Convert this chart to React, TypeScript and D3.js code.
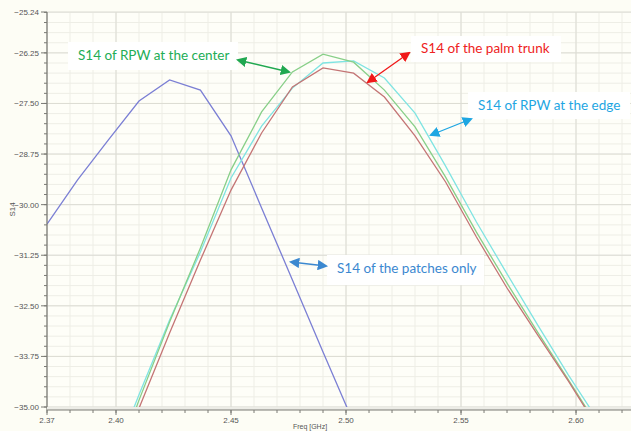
import React from "react";
import * as d3 from "d3";

// frequency sweep (GHz), one point every 0.01333 GHz
const freqs = [2.3833, 2.3967, 2.41, 2.4233, 2.4367, 2.45, 2.4633, 2.4767, 2.49, 2.5033,
  2.5167, 2.53, 2.5433, 2.5567, 2.57, 2.5833, 2.5967, 2.61, 2.6233];

const patchFreqs = [2.37, 2.3833, 2.3967, 2.41, 2.4233, 2.4367, 2.45, 2.4633, 2.4767, 2.49, 2.5033];
const patchesOnly = [-30.48, -29.39, -28.40, -27.44, -26.92, -27.17, -28.30, -30.08, -31.86, -33.64, -35.39];

const rpwCenter = [-38.8, -36.9, -34.83, -32.90, -31.07, -29.14, -27.71, -26.72, -26.28, -26.48,
  -27.17, -28.08, -29.32, -30.68, -31.94, -33.15, -34.33, -35.52, -36.7];
const rpwEdge = [-38.5, -36.6, -34.70, -32.85, -31.17, -29.34, -28.06, -27.12, -26.50, -26.45,
  -26.87, -27.74, -29.05, -30.43, -31.71, -32.97, -34.21, -35.37, -36.5];
const palmTrunk = [-39.0, -37.0, -35.03, -33.17, -31.37, -29.64, -28.23, -27.09, -26.62, -26.75,
  -27.34, -28.30, -29.44, -30.80, -32.06, -33.22, -34.36, -35.57, -36.8];

const yMajor = [-25.24, -26.25, -27.5, -28.75, -30, -31.25, -32.5, -33.75, -35];
const xMajor = [2.37, 2.4, 2.45, 2.5, 2.55, 2.6];

const W = 631, H = 431;
const left = 47, right = 631, top = 12, bottom = 407;

const x = d3.scaleLinear().domain([2.37, 2.6239]).range([left, right]);
const y = d3.scaleLinear().domain([-35, -25.24]).range([bottom, top]);

const yMinor = d3.range(-35, -25.2, 0.25);
const xMinor = d3.range(2.37, 2.625, 0.01);

const line = d3.line<[number, number]>().x(d => x(d[0])).y(d => y(d[1]));

const Arrow = ({ x1, y1, x2, y2, color, id }: any) => (
  <line x1={x1} y1={y1} x2={x2} y2={y2} stroke={color} strokeWidth={1.3}
    markerStart={`url(#${id})`} markerEnd={`url(#${id})`} />
);

const Label = ({ bx, by, bw, bh, tx, ty, text, color }: any) => (
  <g>
    <rect x={bx} y={by} width={bw} height={bh} fill="#ffffff" />
    <text x={tx} y={ty} fill={color} fontSize={13.5} fontFamily="Lato, 'Open Sans', sans-serif">{text}</text>
  </g>
);

export default function App() {
  const series = [
    { name: "patches", xs: patchFreqs, ys: patchesOnly, color: "#7b7fd4" },
    { name: "edge", xs: freqs, ys: rpwEdge, color: "#7fe4e2" },
    { name: "center", xs: freqs, ys: rpwCenter, color: "#88cf88" },
    { name: "trunk", xs: freqs, ys: palmTrunk, color: "#c47575" },
  ];
  const markers = [
    { id: "ag", color: "#20a850" },
    { id: "ar", color: "#f01818" },
    { id: "ab", color: "#1ea6e2" },
    { id: "ap", color: "#3b88d0" },
  ];
  return (
    <div style={{ position: "absolute", left: 0, top: 0 }}>
      <svg width={W} height={H} style={{ display: "block", background: "#fdfdf5" }}>
        <defs>
          <clipPath id="plot">
            <rect x={left} y={top} width={right - left} height={bottom - top} />
          </clipPath>
          {markers.map(m => (
            <marker key={m.id} id={m.id} viewBox="0 0 10 10" refX={8} refY={5}
              markerWidth={8} markerHeight={8} orient="auto-start-reverse">
              <path d="M0,0 L10,5 L0,10 z" fill={m.color} />
            </marker>
          ))}
        </defs>
        <rect x={left} y={top} width={right - left} height={bottom - top} fill="#fefef8" />
        {/* minor grid */}
        {yMinor.map((v, i) => (
          <line key={"ym" + i} x1={left} x2={right} y1={y(v)} y2={y(v)} stroke="#eeeee6" />
        ))}
        {xMinor.map((v, i) => (
          <line key={"xm" + i} x1={x(v)} x2={x(v)} y1={top} y2={bottom} stroke="#eeeee6" />
        ))}
        {/* major grid */}
        {yMajor.map((v, i) => (
          <line key={"yM" + i} x1={left} x2={right} y1={y(v)} y2={y(v)} stroke="#dcdcd4" />
        ))}
        {xMajor.map((v, i) => (
          <line key={"xM" + i} x1={x(v)} x2={x(v)} y1={top} y2={bottom} stroke="#dcdcd4" />
        ))}

        {/* series */}
        <g clipPath="url(#plot)">
          {series.map(s => (
            <path key={s.name} d={line(s.xs.map((f, i) => [f, s.ys[i]] as [number, number])) || ""}
              fill="none" stroke={s.color} strokeWidth={1.3} />
          ))}
        </g>

        {/* y axis */}
        <line x1={left} x2={left} y1={top} y2={bottom + 3} stroke="#7a7a74" strokeWidth={1.2} />
        {yMinor.map((v, i) => (
          <line key={"yt" + i} x1={left - 3} x2={left} y1={y(v)} y2={y(v)} stroke="#7a7a74" />
        ))}
        {yMajor.map((v, i) => (
          <g key={"yl" + i}>
            <line x1={left - 6} x2={left} y1={y(v)} y2={y(v)} stroke="#7a7a74" />
            <text x={left - 8} y={y(v) + 3} textAnchor="end" fontSize={8} fill="#555"
              fontFamily="'Liberation Sans', Arial, sans-serif">{d3.format(".2f")(v)}</text>
          </g>
        ))}
        <text transform={`translate(15, ${(top + bottom) / 2}) rotate(-90)`} textAnchor="middle"
          fontSize={8} fill="#555" fontFamily="'Liberation Sans', Arial, sans-serif">S14</text>

        {/* x axis */}
        <rect x={left} y={bottom} width={right - left} height={3} fill="#ecece6" />
        <line x1={left} x2={right} y1={bottom + 3} y2={bottom + 3} stroke="#7a7a74" strokeWidth={1.2} />
        {xMinor.map((v, i) => (
          <line key={"xt" + i} x1={x(v)} x2={x(v)} y1={bottom + 3} y2={bottom + 6} stroke="#7a7a74" />
        ))}
        {xMajor.map((v, i) => (
          <g key={"xl" + i}>
            <line x1={x(v)} x2={x(v)} y1={bottom + 3} y2={bottom + 8} stroke="#7a7a74" />
            <text x={x(v)} y={bottom + 16} textAnchor="middle" fontSize={8} fill="#555"
              fontFamily="'Liberation Sans', Arial, sans-serif">{d3.format(".2f")(v)}</text>
          </g>
        ))}
        <text x={310} y={429} textAnchor="middle" fontSize={7} fill="#555"
          fontFamily="'Liberation Sans', Arial, sans-serif">Freq [GHz]</text>

        {/* annotations */}
        <Label bx={68} by={42} bw={170} bh={28} tx={78} ty={60} text="S14 of RPW at the center" color="#22ad55" />
        <Arrow x1={238} y1={60} x2={289} y2={72} color="#20a850" id="ag" />

        <Label bx={411} by={36} bw={150} bh={26} tx={421} ty={53} text="S14 of the palm trunk" color="#ee2222" />
        <Arrow x1={409} y1={53} x2={368} y2={82} color="#f01818" id="ar" />

        <Label bx={468} by={92} bw={162} bh={27} tx={478} ty={110} text="S14 of RPW at the edge" color="#1ea6e2" />
        <Arrow x1={471} y1={119} x2={431} y2={135} color="#1ea6e2" id="ab" />

        <Label bx={327} by={255} bw={157} bh={30} tx={337} ty={273} text="S14 of the patches only" color="#3b88d0" />
        <Arrow x1={291} y1={262} x2={326} y2={266} color="#3b88d0" id="ap" />
      </svg>
    </div>
  );
}
